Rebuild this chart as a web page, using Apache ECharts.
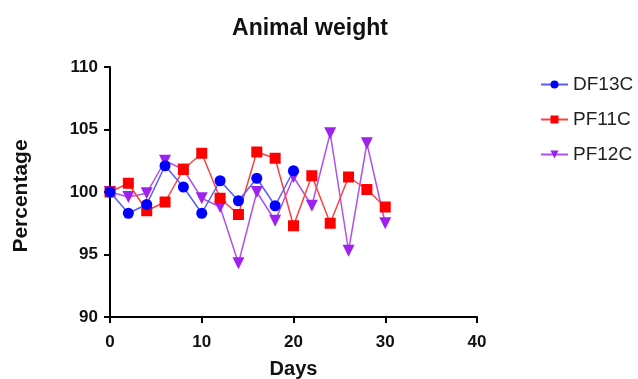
<!DOCTYPE html>
<html>
<head>
<meta charset="utf-8">
<script src="https://cdn.jsdelivr.net/npm/echarts@6/dist/echarts.min.js"></script>
<style>
  html, body { margin: 0; padding: 0; background: #fff; }
  #chart { width: 638px; height: 379px; }
</style>
</head>
<body>
<div id="chart"></div>
<script>
// data
var daysDF = [0, 2, 4, 6, 8, 10, 12, 14, 16, 18, 20];
var df13c = [100, 98.3, 99.0, 102.1, 100.4, 98.3, 100.9, 99.3, 101.1, 98.9, 101.7];

var daysPF = [0, 2, 4, 6, 8, 10, 12, 14, 16, 18, 20, 22, 24, 26, 28, 30];
var pf11c = [100, 100.7, 98.5, 99.2, 101.8, 103.1, 99.5, 98.2, 103.2, 102.7, 97.3, 101.3, 97.5, 101.2, 100.2, 98.8];
var pf12c = [100, 99.6, 99.9, 102.5, 101.8, 99.5, 98.8, 94.3, 100.0, 97.7, 101.2, 98.9, 104.7, 95.3, 103.9, 97.5];

var seriesNames = ['DF13C', 'PF11C', 'PF12C'];
var seriesColors = ['#0000ff', '#ff0000', '#a020f0'];
var lineColors = ['#5a5aff', '#ff4040', '#b050f0'];

// x, y 쌍으로 묶기
function pairs(xs, ys) {
	var out = [];
	for (var i = 0; i < xs.length; i++) {
		out.push([xs[i], ys[i]]);
	}
	return out;
}

var chart = echarts.init(document.getElementById('chart'));

var axisFont = { fontFamily: 'Liberation Sans', fontWeight: 'bold', fontSize: 17, color: '#111' };
var nameFont = { fontFamily: 'Liberation Sans', fontWeight: 'bold', fontSize: 20, color: '#111' };

var option = {
	animation: false,
	title: {
		text: 'Animal weight',
		left: 305,
		top: 12,
		textAlign: 'center',
		textStyle: { fontFamily: 'Liberation Sans', fontWeight: 'bold', fontSize: 23, color: '#111' }
	},
	legend: {
		orient: 'vertical',
		left: 535,
		top: 70,
		itemGap: 16,
		itemWidth: 27,
		itemHeight: 10,
		data: seriesNames,
		textStyle: { fontFamily: 'Liberation Sans', fontSize: 19, color: '#222' }
	},
	grid: {
		left: 110,
		top: 67,
		width: 367,
		height: 250,
		outerBoundsMode: 'none'
	},
	xAxis: {
		type: 'value',
		min: 0,
		max: 40,
		interval: 10,
		name: 'Days',
		nameLocation: 'middle',
		nameGap: 42,
		nameTextStyle: nameFont,
		splitLine: { show: false },
		axisLine: { onZero: false, lineStyle: { color: '#000', width: 2 } },
		axisTick: { show: true, length: 6, lineStyle: { color: '#000', width: 2 } },
		axisLabel: Object.assign({ margin: 17 }, axisFont)
	},
	yAxis: {
		type: 'value',
		min: 90,
		max: 110,
		interval: 5,
		name: 'Percentage',
		nameLocation: 'middle',
		nameGap: 78,
		nameTextStyle: Object.assign({}, nameFont, { fontSize: 21, padding: [0, 8, 0, 0] }),
		splitLine: { show: false },
		axisLine: { show: true, onZero: false, lineStyle: { color: '#000', width: 2 } },
		axisTick: { show: true, length: 6, lineStyle: { color: '#000', width: 2 } },
		axisLabel: Object.assign({ margin: 12 }, axisFont)
	},
	series: [
		{
			name: seriesNames[0],
			type: 'line',
			data: pairs(daysDF, df13c),
			symbol: 'circle',
			symbolSize: 11,
			z: 4,
			itemStyle: { color: seriesColors[0] },
			lineStyle: { color: lineColors[0], width: 1.5 }
		},
		{
			name: seriesNames[1],
			type: 'line',
			data: pairs(daysPF, pf11c),
			symbol: 'rect',
			symbolSize: 11,
			z: 3,
			itemStyle: { color: seriesColors[1] },
			lineStyle: { color: lineColors[1], width: 1.5 }
		},
		{
			name: seriesNames[2],
			type: 'line',
			data: pairs(daysPF, pf12c),
			symbol: 'triangle',
			symbolRotate: 180,
			symbolSize: 12,
			z: 2,
			itemStyle: { color: seriesColors[2] },
			lineStyle: { color: lineColors[2], width: 1.5 }
		}
	]
};

chart.setOption(option);
</script>
</body>
</html>
